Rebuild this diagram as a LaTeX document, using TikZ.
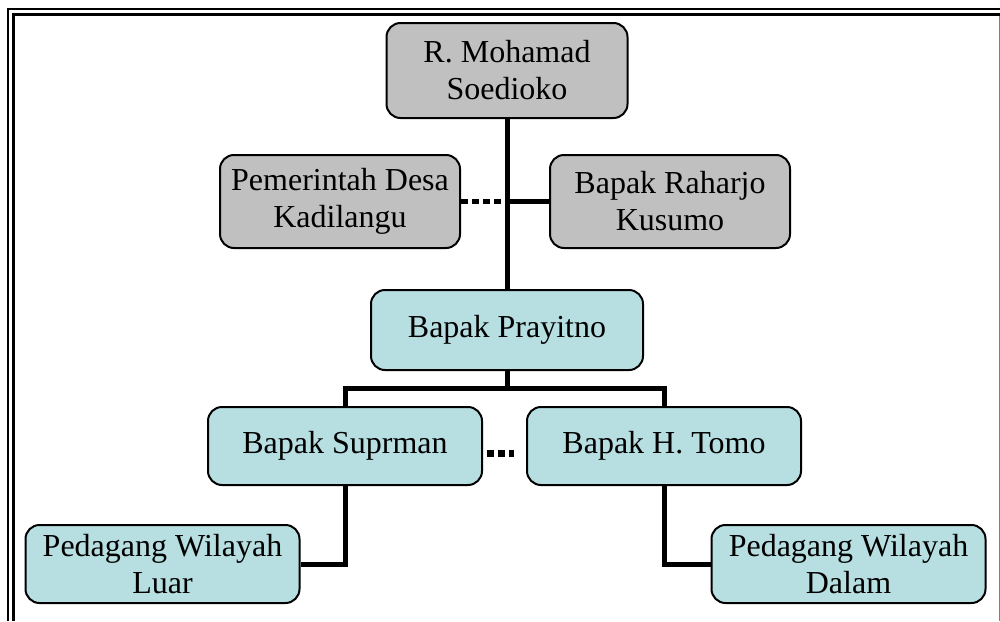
\documentclass[tikz,border=0pt]{standalone}
\usepackage{fontspec}
\setmainfont{Liberation Serif}
\definecolor{abu}{RGB}{192,192,192}
\definecolor{biru}{RGB}{183,223,226}

\begin{document}
\begin{tikzpicture}[x=0.5pt, y=-0.5pt, font=\fontsize{16}{18.5}\selectfont]
        \tikzstyle{every node}=[draw, rounded corners=7pt, line width=1pt, align=center, inner sep=0pt]
        \tikzstyle{tokoh}=[fill=abu, minimum width=120pt, minimum height=46.5pt]
        \tikzstyle{pedagang}=[fill=biru, minimum width=137pt, minimum height=39pt]
        \tikzstyle{garis}=[line width=2.5pt]
        \useasboundingbox (0,0) rectangle (1000,621);
        % bingkai
        \draw[line width=1pt] (8,621) -- (8,9) -- (1000,9);
        \draw[line width=1.5pt] (13.5,621) -- (13.5,14.5) -- (1000,14.5);
        \draw[gray, line width=0.5pt] (999,16) -- (999,621);
        % kotak
        \node [tokoh, minimum width=120.5pt, minimum height=47.5pt] (soedioko) at (507,70.5) {R. Mohamad\\Soedioko};
        \node [tokoh] (pemdes) at (340,201.5) {Pemerintah Desa\\Kadilangu};
        \node [tokoh] (raharjo) at (670,201.5) {Bapak Raharjo\\Kusumo};
        \node [pedagang, minimum width=136pt, minimum height=40pt] (prayitno) at (507,330) {Bapak Prayitno};
        \node [pedagang] (suprman) at (345,446) {Bapak Suprman};
        \node [pedagang] (tomo) at (664,446) {Bapak H. Tomo};
        \node [pedagang] (luar) at (162.5,564) {Pedagang Wilayah\\Luar};
        \node [pedagang] (dalam) at (848.5,564) {Pedagang Wilayah\\Dalam};
        % garis
        \coordinate (bagi) at (507,388);
        \draw[garis] (soedioko.south) -- (prayitno.north);
        \draw[garis] (soedioko.south |- raharjo.west) -- (raharjo.west);
        \draw[garis, dash pattern=on 3.5pt off 2pt] (pemdes.east) -- (soedioko.south |- pemdes.east);
        \draw[garis] (prayitno.south) -- (bagi) -| (suprman.north);
        \draw[garis] (bagi) -| (tomo.north);
        \draw[line width=3.5pt, dash pattern=on 3.5pt off 2pt] ([xshift=2pt, yshift=-3.5pt]suprman.east) -- ([xshift=-6pt, yshift=-3.5pt]tomo.west);
        \draw[garis] (suprman.south) |- (luar.east);
        \draw[garis] (tomo.south) |- (dalam.west);
    \end{tikzpicture}
\end{document}
